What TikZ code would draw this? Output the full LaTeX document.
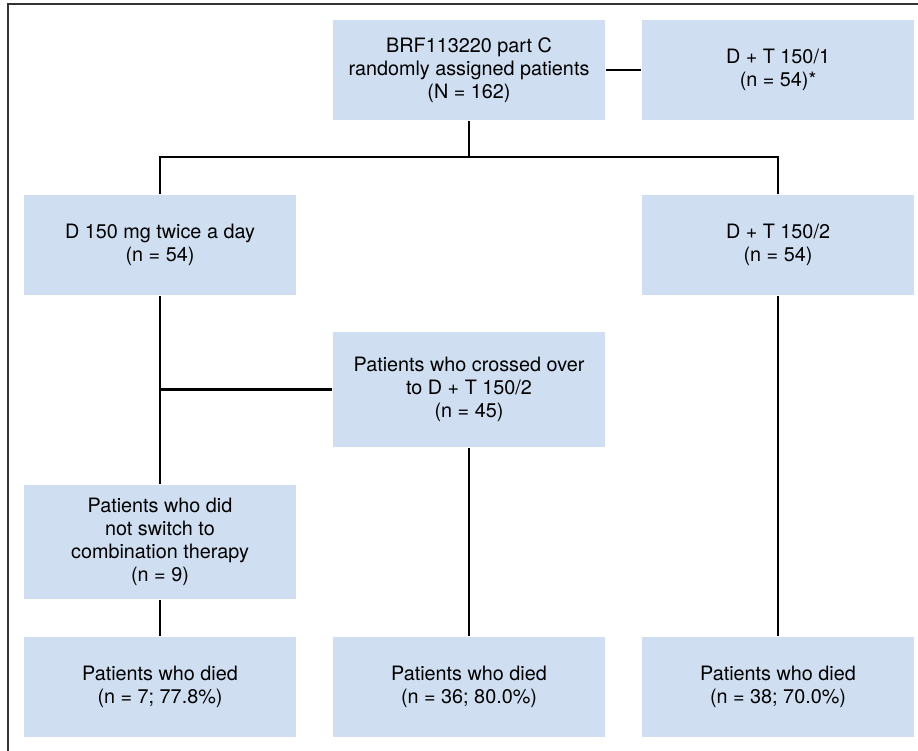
\documentclass[tikz,border=0pt]{standalone}
\usepackage{fontspec}
\setmainfont{TeX Gyre Heros}
\definecolor{boxblue}{RGB}{207,222,240}

\begin{document}
\begin{tikzpicture}[x=1pt, y=-1pt, line width=2.2pt,
  box/.style={fill=boxblue, minimum width=272pt, minimum height=100pt, inner sep=0pt, align=center, font=\fontsize{19.8}{23}\selectfont}]
\useasboundingbox (0,0) rectangle (918,751);
\draw[black!80, line width=1.6pt] (918,4) -| (8,751);

\node[box] at (469,70) (1) {BRF113220 part C\\randomly assigned patients\\(N = 162)};
\node[box] at (778,70) (2) {D + T 150/1\\(n = 54)*};
\node[box] at (160,245) (3) {D 150 mg twice a day\\(n = 54)};
\node[box] at (778,245) (4) {D + T 150/2\\(n = 54)};
\node[box, minimum height=115pt] at (469,389.5) (5) {Patients who crossed over\\to D + T 150/2\\(n = 45)};
\node[box, minimum height=114pt] at (160,542) (6) {Patients who did\\not switch to\\combination therapy\\(n = 9)};
\node[box] at (160,687) (7) {Patients who died\\(n = 7; 77.8\%)};
\node[box] at (469,687) (8) {Patients who died\\(n = 36; 80.0\%)};
\node[box] at (778,687) (9) {Patients who died\\(n = 38; 70.0\%)};
\coordinate (a) at (469,157);

\draw (1) to (2);
\draw (1) to (a);
\draw (3) -- (3 |- a) -- (4 |- a) -- (4);
\draw (3) to (6) to (7);
\draw (5) to (5 -| 3);
\draw (5) to (8);
\draw (4) to (9);
\end{tikzpicture}
\end{document}
